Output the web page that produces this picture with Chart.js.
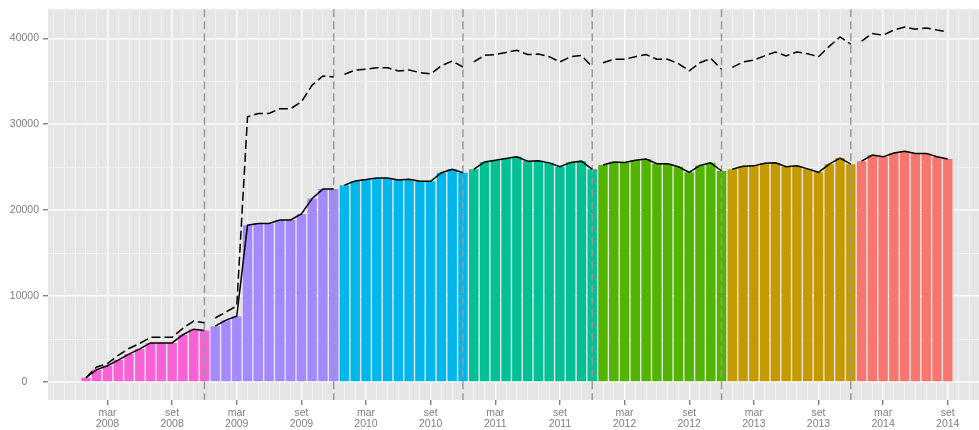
<!DOCTYPE html>
<html>
<head>
<meta charset="utf-8">
<script src="https://cdn.jsdelivr.net/npm/chart.js@4.4.1/dist/chart.umd.min.js"></script>
<style>
html, body { margin: 0; padding: 0; background: #fff; }
canvas { display: block; }
</style>
</head>
<body>
<canvas id="chart" width="979" height="430"></canvas>
<script>
// months counted from gen 2008
const startYear = 2008;
const monthNames = ['gen', 'feb', 'mar', 'apr', 'mag', 'giu', 'lug', 'ago', 'set', 'ott', 'nov', 'dic'];
const labelledMonths = [2, 8];

// monthly value (bars + solid line)
const barValues = [
  500, 1450, 1900, 2550, 3250, 3850, 4550, 4550, 4550, 5500, 6150, 6000,
  6500, 7200, 7650, 18250, 18450, 18450, 18850, 18850, 19550, 21350, 22450, 22450,
  22900, 23400, 23550, 23750, 23750, 23500, 23600, 23350, 23350, 24350, 24750, 24350,
  24750, 25600, 25800, 26000, 26200, 25700, 25750, 25500, 25050, 25550, 25700, 24750,
  25250, 25600, 25550, 25800, 25950, 25400, 25400, 25050, 24400, 25200, 25500, 24550,
  24750, 25100, 25150, 25450, 25500, 25050, 25150, 24800, 24400, 25350, 26050, 25350,
  25700, 26400, 26200, 26650, 26850, 26600, 26600, 26200, 25950
];

// dashed series
const dashedValues = [
  500, 1750, 2150, 3100, 3900, 4500, 5200, 5200, 5200, 6250, 7100, 6900,
  7450, 8150, 8850, 30850, 31250, 31250, 31800, 31800, 32600, 34550, 35600, 35500,
  35800, 36300, 36400, 36550, 36550, 36200, 36300, 36000, 35850, 36800, 37350, 36650,
  37250, 38000, 38100, 38350, 38600, 38100, 38150, 37850, 37250, 37850, 38000, 36650,
  37150, 37550, 37550, 37850, 38100, 37550, 37550, 37050, 36200, 37150, 37650, 36400,
  36600, 37250, 37450, 37950, 38400, 37950, 38400, 38200, 37850, 39050, 40150, 39300,
  39650, 40550, 40350, 40950, 41300, 41050, 41200, 40950, 40750
];

// december of each year, where the dashed markers go
const yearEnds = [11, 23, 35, 47, 59, 71];

// y grid every 5000, labels every 10000
const yTicks = [0, 5000, 10000, 15000, 20000, 25000, 30000, 35000, 40000];

const yearColours = {
  2008: '#FB61D7', 2009: '#A58AFF', 2010: '#00B6EB', 2011: '#00C094',
  2012: '#53B400', 2013: '#C49A00', 2014: '#F8766D'
};

const yearOf = i => startYear + Math.floor(i / 12);
const toPoints = arr => arr.map((v, i) => ({ x: i, y: v }));
const sameYear = c => yearOf(c.p0DataIndex) === yearOf(c.p1DataIndex) ? '#000' : 'rgba(0,0,0,0)';

const monthOf = v => ((v % 12) + 12) % 12;
const isMajorX = v => labelledMonths.includes(monthOf(v));
const isMajorY = v => v % 10000 === 0;

const panel = {
  id: 'panel',
  beforeDraw(chart) {
    const { ctx, chartArea: a } = chart;
    ctx.save();
    ctx.fillStyle = '#E5E5E5';
    ctx.fillRect(a.left, a.top, a.right - a.left, a.bottom - a.top);
    ctx.restore();
  },
  afterDatasetDraw(chart, args) {
    if (args.index !== 0) return;
    const { ctx, chartArea: a, scales: { x } } = chart;
    ctx.save();
    ctx.strokeStyle = '#9A9A9A';
    ctx.lineWidth = 1.5;
    ctx.setLineDash([8, 4]);
    yearEnds.forEach(i => {
      const px = x.getPixelForValue(i);
      ctx.beginPath();
      ctx.moveTo(px, a.top);
      ctx.lineTo(px, a.bottom);
      ctx.stroke();
    });
    ctx.restore();
  }
};

const tickFont = { family: '"Liberation Sans", Arial, sans-serif', size: 10.5, lineHeight: 1 };

new Chart(document.getElementById('chart'), {
  type: 'bar',
  data: {
    datasets: [
      {
        type: 'bar',
        data: toPoints(barValues),
        backgroundColor: barValues.map((v, i) => yearColours[yearOf(i)]),
        barPercentage: 0.87,
        categoryPercentage: 1,
        order: 3
      },
      {
        type: 'line',
        data: toPoints(barValues),
        borderColor: '#000',
        borderWidth: 1.5,
        pointRadius: 0,
        tension: 0,
        fill: false,
        segment: { borderColor: sameYear },
        order: 1
      },
      {
        type: 'line',
        data: toPoints(dashedValues),
        borderColor: '#000',
        borderWidth: 1.5,
        borderDash: [9, 4],
        pointRadius: 0,
        tension: 0,
        fill: false,
        segment: { borderColor: sameYear },
        order: 2
      }
    ]
  },
  options: {
    responsive: false,
    animation: false,
    layout: { padding: { top: 9, left: 0, right: 0, bottom: 0 }, autoPadding: false },
    plugins: { legend: { display: false }, tooltip: { enabled: false } },
    scales: {
      x: {
        type: 'linear',
        min: -3.52,
        max: 82.9,
        offset: false,
        border: { display: false },
        grid: {
          offset: false,
          color: c => isMajorX(c.tick.value) ? '#FFFFFF' : '#F2F2F2',
          lineWidth: c => isMajorX(c.tick.value) ? 1.4 : 0.9,
          tickColor: c => isMajorX(c.tick.value) ? '#7F7F7F' : 'rgba(0,0,0,0)',
          tickLength: 5
        },
        afterBuildTicks(s) {
          const ticks = [];
          for (let m = Math.ceil(s.min); m <= Math.floor(s.max); m++) ticks.push({ value: m });
          s.ticks = ticks;
        },
        ticks: {
          autoSkip: false,
          maxRotation: 0,
          padding: 3,
          color: '#7F7F7F',
          font: tickFont,
          callback: v => {
            if (v < 0 || !isMajorX(v)) return '';
            return [monthNames[monthOf(v)], String(yearOf(v))];
          }
        },
        afterFit(s) { s.height = 30; }
      },
      y: {
        min: -2090,
        max: 43370,
        border: { display: false },
        grid: {
          color: c => isMajorY(c.tick.value) ? '#FFFFFF' : '#F2F2F2',
          lineWidth: c => isMajorY(c.tick.value) ? 1.4 : 0.9,
          tickColor: c => isMajorY(c.tick.value) ? '#7F7F7F' : 'rgba(0,0,0,0)',
          tickLength: 5
        },
        afterBuildTicks(s) {
          s.ticks = yTicks.map(v => ({ value: v }));
        },
        ticks: {
          autoSkip: false,
          crossAlign: 'center',
          padding: 4,
          color: '#7F7F7F',
          font: tickFont,
          callback: v => isMajorY(v) ? String(v) : ''
        },
        afterFit(s) { s.width = 48; }
      }
    }
  },
  plugins: [panel]
});
</script>
</body>
</html>
